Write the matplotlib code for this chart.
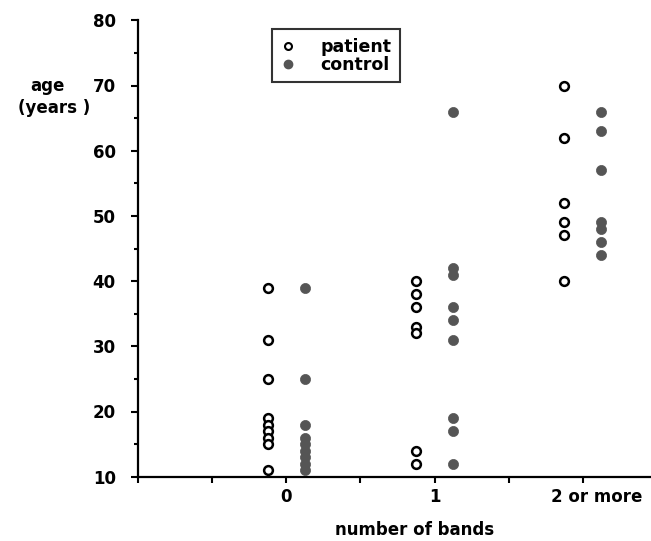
import matplotlib
matplotlib.use("Agg")
import matplotlib.pyplot as plt
from matplotlib.lines import Line2D
import matplotlib.transforms as mtransforms
import numpy as np

# ---- data ----
categories = ["0", "1", "2 or more"]
patient_0 = [39, 31, 25, 19, 18, 17, 16, 15, 11]
control_0 = [39, 25, 18, 16, 15, 14, 13, 12, 11]
patient_1 = [40, 38, 36, 33, 32, 14, 12]
control_1 = [66, 42, 41, 36, 34, 31, 19, 17, 12]
patient_2 = [70, 62, 52, 49, 47, 40]
control_2 = [66, 63, 57, 49, 48, 46, 44]

patients = [patient_0, patient_1, patient_2]
controls = [control_0, control_1, control_2]
offset = 0.125

plt.rcParams['font.family'] = ['DejaVu Sans']
plt.rcParams['font.weight'] = 'bold'

fig = plt.figure(figsize=(6.51, 5.41), dpi=100)
ax = fig.add_axes([138/651, 1 - 476.7/541, 513/651, 456.4/541])

ms = 6.3
for i, (p, c) in enumerate(zip(patients, controls)):
    ax.plot(np.full(len(p), i - offset), p, linestyle='none', marker='o',
            markersize=ms, markerfacecolor='white', markeredgecolor='black',
            markeredgewidth=1.8, clip_on=False, zorder=3)
    ax.plot(np.full(len(c), i + offset), c, linestyle='none', marker='o',
            markersize=ms + 1, markerfacecolor='#555555', markeredgecolor='#555555',
            markeredgewidth=0.5, clip_on=False, zorder=3)

ax.set_xlim(-1, 2.46)
ax.set_ylim(10, 80)

for s in ['top', 'right']:
    ax.spines[s].set_visible(False)
for s in ['left', 'bottom']:
    ax.spines[s].set_linewidth(1.6)
    ax.spines[s].set_color('black')

ax.set_xticks([0, 1, 2])
ax.set_xticklabels(categories, fontsize=12, fontweight='bold')
ax.set_xticks([-1, -0.5, 0.5, 1.5], minor=True)
ax.tick_params(axis='x', which='both', direction='out', length=4, width=1.5, pad=4)

ax.set_yticks(np.arange(10, 81, 10))
ax.set_yticks(np.arange(15, 80, 10), minor=True)
ax.tick_params(axis='y', which='major', direction='out', length=5, width=1.5, pad=11, labelsize=12)
ax.tick_params(axis='y', which='minor', direction='out', length=3, width=1.5)
for lab in ax.get_yticklabels():
    lab.set_fontweight('bold')

# shift "2 or more" label right like the reference
lbls = ax.get_xticklabels()
lbls[2].set_transform(lbls[2].get_transform() + mtransforms.ScaledTranslation(14/100, 0, fig.dpi_scale_trans))

ax.set_xlabel("number of bands", fontsize=12, fontweight='bold', va='center')
ax.xaxis.set_label_coords((415 - 138) / 513, -(530 - 476.7) / 456.4)

fig.text(47/651, 1 - 86/541, "age", fontsize=12, fontweight='bold', ha='center', va='center')
fig.text(54/651, 1 - 108/541, "(years )", fontsize=12, fontweight='bold', ha='center', va='center')

handles = [Line2D([], [], linestyle='none', marker='o', markersize=5, markerfacecolor='white',
                  markeredgecolor='black', markeredgewidth=1.5),
           Line2D([], [], linestyle='none', marker='o', markersize=6, markerfacecolor='#555555',
                  markeredgecolor='#555555')]
leg = ax.legend(handles, ["patient", "control"], loc='upper left',
                bbox_to_anchor=((272 - 138) / 513, 1 - (29 - 20.3) / 456.4),
                borderaxespad=0, frameon=True, fancybox=False, edgecolor='black',
                prop={'weight': 'bold', 'size': 12.5}, labelspacing=0.0,
                handlelength=0.8, handletextpad=1.5, borderpad=0.5)
leg.get_frame().set_linewidth(1.5)

fig.savefig("out.png", dpi=100)
